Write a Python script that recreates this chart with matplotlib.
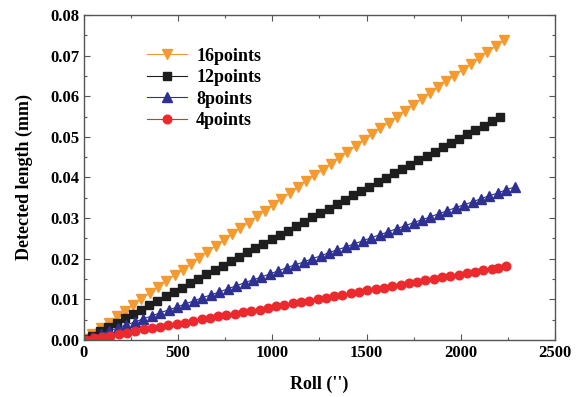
import matplotlib
matplotlib.use("Agg")
import matplotlib.pyplot as plt
import matplotlib.ticker as mtick

# Detected length vs roll angle for different numbers of points
x16 = [0, 40, 88, 131, 176, 218, 262, 305, 350, 393, 437, 481, 524, 568, 612, 655, 700, 742,
       786, 830, 874, 917, 961, 1005, 1048, 1092, 1136, 1180, 1223, 1267, 1311, 1354, 1398,
       1442, 1485, 1530, 1573, 1617, 1660, 1704, 1748, 1792, 1835, 1879, 1923, 1966, 2010,
       2054, 2097, 2141, 2185, 2229]
y16 = [0.0003, 0.0014, 0.0029, 0.0043, 0.0058, 0.0072, 0.0087, 0.0101, 0.0116, 0.0130,
       0.0145, 0.0159, 0.0173, 0.0188, 0.0203, 0.0217, 0.0232, 0.0246, 0.0260, 0.0275,
       0.0289, 0.0304, 0.0318, 0.0333, 0.0347, 0.0361, 0.0376, 0.0391, 0.0405, 0.0419,
       0.0434, 0.0448, 0.0463, 0.0477, 0.0492, 0.0506, 0.0521, 0.0535, 0.0549, 0.0564,
       0.0579, 0.0593, 0.0607, 0.0622, 0.0637, 0.0651, 0.0665, 0.0680, 0.0694, 0.0709,
       0.0723, 0.0738]

x12 = [0, 45, 87, 130, 173, 217, 260, 303, 346, 390, 433, 476, 520, 563, 606, 649, 693, 736,
       779, 822, 866, 909, 952, 996, 1039, 1082, 1125, 1169, 1212, 1255, 1299, 1342, 1385,
       1428, 1472, 1515, 1558, 1602, 1645, 1688, 1731, 1775, 1818, 1861, 1905, 1948, 1991,
       2034, 2078, 2121, 2165, 2208]
y12 = [0.0002, 0.0011, 0.0022, 0.0032, 0.0043, 0.0054, 0.0065, 0.0075, 0.0086, 0.0097,
       0.0108, 0.0119, 0.0129, 0.0140, 0.0151, 0.0162, 0.0173, 0.0183, 0.0194, 0.0205,
       0.0216, 0.0226, 0.0237, 0.0248, 0.0259, 0.0269, 0.0280, 0.0291, 0.0302, 0.0312,
       0.0323, 0.0334, 0.0345, 0.0356, 0.0367, 0.0377, 0.0388, 0.0399, 0.0410, 0.0420,
       0.0431, 0.0442, 0.0453, 0.0463, 0.0474, 0.0485, 0.0496, 0.0506, 0.0517, 0.0528,
       0.0539, 0.0549]

x8 = [0, 45, 90, 135, 180, 224, 269, 314, 359, 404, 449, 493, 538, 583, 628, 673, 718, 762,
      807, 852, 897, 942, 987, 1031, 1076, 1121, 1166, 1211, 1256, 1300, 1345, 1390, 1435,
      1480, 1525, 1569, 1614, 1659, 1704, 1749, 1794, 1838, 1883, 1928, 1973, 2018, 2063,
      2107, 2152, 2197, 2242, 2288]
y8 = [0.0001, 0.0008, 0.0015, 0.0022, 0.0030, 0.0037, 0.0044, 0.0052, 0.0059, 0.0067,
      0.0074, 0.0081, 0.0089, 0.0096, 0.0104, 0.0111, 0.0118, 0.0126, 0.0133, 0.0141,
      0.0148, 0.0155, 0.0163, 0.0170, 0.0178, 0.0185, 0.0192, 0.0200, 0.0207, 0.0215,
      0.0222, 0.0229, 0.0237, 0.0244, 0.0252, 0.0259, 0.0266, 0.0274, 0.0281, 0.0289,
      0.0296, 0.0303, 0.0311, 0.0318, 0.0326, 0.0333, 0.0340, 0.0348, 0.0355, 0.0362,
      0.0370, 0.0377]

x4 = [10, 52, 96, 140, 184, 228, 272, 316, 360, 404, 448, 492, 536, 580, 624, 668, 712, 756,
      800, 844, 888, 932, 976, 1020, 1064, 1108, 1152, 1196, 1240, 1284, 1328, 1372, 1416,
      1460, 1504, 1548, 1592, 1636, 1680, 1724, 1768, 1812, 1856, 1900, 1944, 1988, 2032,
      2076, 2120, 2164, 2200, 2240]
y4 = [0.0001, 0.0004, 0.0008, 0.0011, 0.0015, 0.0018, 0.0022, 0.0026, 0.0029, 0.0033,
      0.0036, 0.0040, 0.0043, 0.0047, 0.0051, 0.0054, 0.0058, 0.0061, 0.0065, 0.0068,
      0.0072, 0.0075, 0.0079, 0.0083, 0.0086, 0.0090, 0.0093, 0.0097, 0.0100, 0.0104,
      0.0108, 0.0111, 0.0115, 0.0118, 0.0122, 0.0125, 0.0129, 0.0133, 0.0136, 0.0140,
      0.0143, 0.0147, 0.0150, 0.0154, 0.0157, 0.0161, 0.0165, 0.0168, 0.0172, 0.0175,
      0.0178, 0.0182]

plt.rcParams['font.family'] = ['Liberation Serif', 'DejaVu Serif']
plt.rcParams['font.weight'] = 'bold'

fig = plt.figure(figsize=(5.82, 3.97), dpi=100)
ax = fig.add_axes([0.1443, 0.1436, 0.8093, 0.8186])

ax.plot(x16, y16, color='#F59A2E', lw=0.8, marker='v', ms=7.8, mec='#F59A2E', label='16points')
ax.plot(x12, y12, color='#1E1E1E', lw=0.8, marker='s', ms=5.6, mec='#1E1E1E', label='12points')
ax.plot(x8, y8, color='#2E3192', lw=0.8, marker='^', ms=7.3, mec='#2E3192', label='8points')
ax.plot(x4, y4, color='#EC2A2E', lw=0.8, marker='o', ms=6.2, mec='#EC2A2E', label='4points')

ax.set_xlim(0, 2500)
ax.set_ylim(0, 0.08)
ax.xaxis.set_major_locator(mtick.MultipleLocator(500))
ax.xaxis.set_minor_locator(mtick.MultipleLocator(250))
ax.yaxis.set_major_locator(mtick.MultipleLocator(0.01))
ax.yaxis.set_minor_locator(mtick.MultipleLocator(0.005))
ax.yaxis.set_major_formatter(mtick.FormatStrFormatter('%.2f'))
ax.tick_params(which='both', direction='in', top=True, right=True, labelsize=12, color='#555555')
ax.tick_params(which='major', length=4, width=0.8)
ax.tick_params(which='minor', length=2, width=0.8)
for s in ax.spines.values():
    s.set_color('#555555')
    s.set_linewidth(1.0)

ax.set_xlabel("Roll ('')", fontsize=13, fontweight='bold', labelpad=11)
ax.set_ylabel("Detected length (mm)", fontsize=13, fontweight='bold', labelpad=12)

leg = ax.legend(loc='upper left', bbox_to_anchor=(0.1, 0.95), frameon=False, fontsize=13,
                handlelength=2.2, labelspacing=0.25, handletextpad=0.5)

plt.savefig("out.png", dpi=100)
